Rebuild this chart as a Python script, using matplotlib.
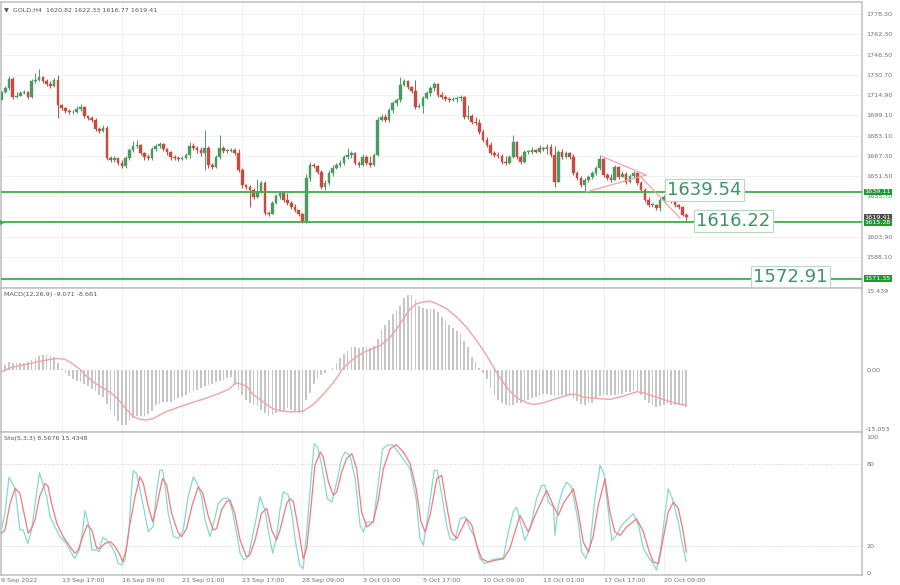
import matplotlib
matplotlib.use("Agg")
import matplotlib.pyplot as plt
import matplotlib.transforms as mtransforms

# GOLD H4, one value per bar (bar 0 = 9 Sep 2022 01:00)
first_open = 1711.0
closes = [1717.3, 1720.4, 1727.5, 1713.4, 1714.2, 1716.5, 1717.3, 1713.4, 1725.9, 1726.7,
          1729.0, 1725.9, 1723.5, 1722.0, 1726.7, 1707.1, 1704.8, 1702.4, 1701.6, 1701.6,
          1704.0, 1705.6, 1698.5, 1697.0, 1695.4, 1688.3, 1686.8, 1689.1, 1665.7, 1664.1,
          1665.7, 1661.8, 1659.4, 1665.7, 1671.9, 1675.1, 1675.8, 1669.6, 1666.5, 1665.7,
          1672.7, 1675.1, 1676.6, 1672.7, 1670.4, 1666.5, 1665.7, 1664.9, 1665.7, 1668.0,
          1675.1, 1673.5, 1671.9, 1669.6, 1673.5, 1660.2, 1658.6, 1666.5, 1673.5, 1671.1,
          1671.1, 1671.9, 1669.6, 1656.3, 1644.6, 1643.0, 1640.6, 1635.2, 1639.1, 1646.1,
          1622.6, 1621.9, 1630.5, 1635.9, 1638.3, 1632.8, 1630.5, 1627.3, 1625.0, 1621.9,
          1616.4, 1650.0, 1660.2, 1659.4, 1654.7, 1643.0, 1646.1, 1653.9, 1657.8, 1660.2,
          1661.8, 1666.5, 1668.0, 1669.6, 1661.8, 1660.2, 1666.5, 1661.8, 1660.2, 1668.0,
          1695.4, 1697.7, 1695.4, 1703.2, 1708.7, 1711.0, 1722.8, 1725.9, 1721.2, 1718.1,
          1705.6, 1706.3, 1712.6, 1716.5, 1720.4, 1723.5, 1714.9, 1713.4, 1711.8, 1711.0,
          1711.8, 1712.6, 1713.4, 1697.7, 1698.5, 1693.8, 1693.0, 1686.0, 1679.7, 1675.8,
          1669.6, 1668.0, 1667.2, 1662.5, 1661.8, 1666.5, 1678.2, 1666.5, 1662.5, 1670.4,
          1670.4, 1671.9, 1670.4, 1673.5, 1672.7, 1674.3, 1668.0, 1646.9, 1670.4, 1666.5,
          1669.6, 1666.5, 1653.9, 1650.0, 1644.6, 1648.5, 1650.8, 1653.9, 1657.8, 1664.9,
          1652.4, 1650.0, 1648.5, 1658.6, 1650.8, 1653.2, 1646.9, 1651.6, 1653.9, 1646.1,
          1640.6, 1632.8, 1628.9, 1628.9, 1626.6, 1632.8, 1635.2, 1636.7, 1632.0, 1628.9,
          1627.3, 1620.82, 1619.41]
highs = [1718.9, 1722.0, 1729.8, 1729.0, 1717.3, 1718.1, 1718.9, 1718.1, 1727.5, 1732.2,
         1735.3, 1729.8, 1727.5, 1725.9, 1728.2, 1730.6, 1707.9, 1705.6, 1704.0, 1703.2,
         1706.3, 1707.9, 1706.3, 1698.5, 1698.5, 1697.0, 1689.9, 1691.5, 1690.7, 1667.2,
         1667.2, 1665.7, 1664.1, 1667.2, 1673.5, 1679.0, 1679.7, 1676.6, 1670.4, 1668.8,
         1674.3, 1676.6, 1678.2, 1677.4, 1673.5, 1671.1, 1668.0, 1667.2, 1667.2, 1669.6,
         1678.2, 1677.4, 1675.1, 1674.3, 1687.6, 1675.1, 1661.8, 1668.0, 1683.7, 1675.1,
         1672.7, 1673.5, 1673.5, 1672.7, 1657.8, 1645.3, 1644.6, 1642.2, 1649.2, 1647.7,
         1647.7, 1624.2, 1632.0, 1637.5, 1639.9, 1639.9, 1638.3, 1632.0, 1629.7, 1624.2,
         1622.6, 1653.2, 1662.5, 1661.8, 1660.2, 1656.3, 1648.5, 1656.3, 1660.2, 1661.8,
         1664.1, 1668.0, 1673.5, 1671.1, 1670.4, 1663.3, 1668.8, 1668.0, 1667.2, 1669.6,
         1697.7, 1700.1, 1700.1, 1704.8, 1710.3, 1712.6, 1729.0, 1727.5, 1726.7, 1722.0,
         1726.7, 1708.7, 1714.2, 1718.1, 1722.0, 1725.1, 1724.3, 1717.3, 1714.9, 1713.4,
         1713.4, 1714.2, 1714.9, 1714.2, 1707.1, 1700.1, 1697.7, 1696.2, 1688.3, 1682.1,
         1678.2, 1671.1, 1670.4, 1668.8, 1667.2, 1668.0, 1683.7, 1679.0, 1668.0, 1671.9,
         1671.9, 1674.3, 1672.7, 1675.8, 1674.3, 1676.6, 1676.6, 1675.1, 1671.9, 1672.7,
         1671.1, 1670.4, 1668.8, 1655.5, 1651.6, 1650.0, 1652.4, 1655.5, 1659.4, 1668.0,
         1665.7, 1653.9, 1653.2, 1660.2, 1659.4, 1655.5, 1654.7, 1653.2, 1655.5, 1654.7,
         1647.7, 1642.2, 1635.2, 1630.5, 1629.7, 1634.4, 1636.7, 1640.6, 1637.5, 1633.6,
         1629.7, 1628.1, 1622.33]
lows = [1707.9, 1716.5, 1718.9, 1711.8, 1712.6, 1714.9, 1715.7, 1711.8, 1712.6, 1724.3,
        1725.9, 1724.3, 1722.0, 1720.4, 1721.2, 1697.0, 1703.2, 1700.9, 1700.1, 1700.1,
        1700.9, 1702.4, 1697.0, 1695.4, 1693.8, 1686.8, 1685.2, 1686.0, 1664.1, 1662.5,
        1662.5, 1660.2, 1657.8, 1657.8, 1664.1, 1670.4, 1673.5, 1668.0, 1664.1, 1664.1,
        1664.1, 1671.1, 1673.5, 1671.1, 1668.0, 1664.1, 1664.1, 1663.3, 1664.1, 1664.9,
        1665.7, 1671.9, 1669.6, 1667.2, 1656.3, 1657.8, 1657.1, 1657.8, 1664.9, 1669.6,
        1669.6, 1670.4, 1668.0, 1654.7, 1642.2, 1641.4, 1627.3, 1633.6, 1634.4, 1638.3,
        1621.1, 1620.3, 1621.9, 1629.7, 1633.6, 1631.3, 1628.9, 1625.8, 1623.4, 1620.3,
        1614.8, 1614.8, 1647.7, 1657.8, 1653.2, 1641.4, 1640.6, 1644.6, 1651.6, 1657.1,
        1658.6, 1660.2, 1664.9, 1665.7, 1660.2, 1658.6, 1659.4, 1660.2, 1658.6, 1659.4,
        1667.2, 1694.6, 1693.8, 1693.8, 1700.9, 1706.3, 1709.5, 1722.0, 1719.6, 1716.5,
        1704.0, 1704.8, 1700.9, 1711.8, 1714.2, 1718.1, 1713.4, 1711.8, 1710.3, 1709.5,
        1710.3, 1709.5, 1710.3, 1696.2, 1696.2, 1692.3, 1691.5, 1684.4, 1678.2, 1674.3,
        1668.0, 1666.5, 1665.7, 1661.0, 1660.2, 1661.0, 1665.7, 1664.9, 1661.0, 1661.8,
        1668.8, 1668.8, 1669.6, 1669.6, 1671.1, 1668.8, 1666.5, 1643.0, 1646.9, 1664.9,
        1665.7, 1664.9, 1652.4, 1648.5, 1643.0, 1639.1, 1646.9, 1649.2, 1652.4, 1656.3,
        1650.8, 1648.5, 1646.9, 1649.2, 1649.2, 1651.6, 1645.3, 1646.1, 1650.0, 1644.6,
        1639.1, 1631.3, 1627.3, 1627.3, 1625.0, 1624.2, 1631.3, 1632.0, 1630.5, 1627.3,
        1625.8, 1620.3, 1616.77]

macd_hist = [0.37, 0.99, 1.85, 1.60, 1.48, 1.48, 1.48, 1.79, 2.22, 2.71,
             3.20, 3.45, 3.45, 3.20, 3.08, 1.60, 0.25, -0.80, -1.60, -2.28,
             -2.83, -2.96, -3.45, -4.07, -4.68, -5.30, -6.10, -6.53, -8.25, -9.73,
             -11.33, -12.57, -13.43, -13.43, -12.20, -11.83, -11.33, -11.33, -11.33, -10.84,
             -9.98, -8.50, -8.25, -7.88, -7.88, -7.76, -7.27, -6.90, -6.53, -6.10,
             -5.67, -5.11, -4.88, -4.44, -4.07, -3.70, -3.45, -3.08, -2.83, -2.46,
             -2.03, -1.85, -3.70, -4.88, -6.10, -7.27, -8.13, -8.50, -8.75, -9.73,
             -10.60, -11.21, -11.09, -10.60, -9.98, -9.98, -9.36, -9.73, -9.98, -10.47,
             -10.84, -7.39, -5.61, -3.57, -1.97, -1.29, -0.74, -0.16, 0.49, 1.48,
             2.71, 3.70, 4.56, 5.42, 5.42, 5.17, 5.54, 5.54, 5.17, 5.79,
             7.39, 9.61, 10.84, 12.07, 13.55, 14.48, 15.52, 17.37, 17.99, 17.99,
             16.88, 15.52, 14.97, 14.72, 14.72, 14.72, 13.92, 12.81, 11.83, 10.84,
             10.10, 9.24, 8.62, 7.02, 5.42, 2.96, 1.72, 0.49, -0.74, -2.34,
             -4.44, -6.04, -7.27, -8.01, -8.62, -8.87, -8.62, -8.01, -8.01, -7.52,
             -7.27, -6.78, -6.65, -6.41, -5.85, -5.85, -6.16, -6.41, -6.41, -6.16,
             -6.04, -6.41, -6.78, -7.52, -8.25, -8.62, -8.01, -8.01, -6.78, -6.41,
             -6.16, -6.16, -6.16, -6.16, -5.85, -5.85, -5.54, -5.42, -5.17, -5.17,
             -6.04, -7.27, -8.01, -8.62, -9.12, -8.87, -8.50, -8.25, -8.50, -8.50,
             -8.62, -8.87, -9.071]

signal_bar = [0, 2.3, 4.9, 7.6, 10.2, 12.9, 15.1, 16.9, 18.6, 20.9,
              22.6, 24.4, 26.2, 28, 29.7, 31.5, 33.3, 35.0, 36.8, 38.6,
              40.4, 42.1, 43.9, 47.4, 51, 54.5, 58.1, 60.7, 62.1, 63.4,
              65.2, 66.9, 68.7, 70.5, 72.2, 74, 76.7, 80.2, 82.9, 85.5,
              88.2, 90.9, 93.5, 96.2, 98.8, 100.6, 103.3, 105, 106.8, 108.6,
              110.3, 112.1, 113.9, 115.7, 118.3, 121, 123.6, 126.3, 129, 131.6,
              134.3, 136.9, 139.6, 141.4, 144, 147.6, 151.1, 152.9, 154.6, 158.2,
              161.7, 165.3, 168.8, 170.6, 173.2, 175.9, 178.6, 182]
signal_val = [-0.57, 0.41, 0.97, 1.47, 2.03, 2.44, 2.69, 2.46, 1.63, 0.0,
              -1.60, -2.96, -4.07, -4.93, -6.10, -7.76, -9.73, -11.33, -12.07, -12.20,
              -11.83, -10.96, -10.16, -8.99, -7.88, -6.90, -5.67, -4.63, -3.20, -3.45,
              -4.07, -6.10, -7.27, -8.50, -9.49, -9.98, -10.25, -10.08, -8.45, -6.01,
              -3.17, 0.49, 2.53, 4.15, 5.13, 5.78, 7.81, 9.84, 12.28, 14.72,
              15.94, 16.35, 16.59, 15.94, 14.72, 12.69, 10.25, 7.00, 3.34, -0.73,
              -4.39, -6.83, -8.04, -8.45, -8.04, -6.99, -6.01, -6.01, -6.67, -6.99,
              -7.23, -6.42, -5.37, -5.61, -6.42, -7.23, -8.04, -8.661]

sto_k_bar = [0, 0.9, 2.0, 3.6, 4.9, 5.8, 7.0, 8.0, 9.2, 10.1,
             11.6, 12.0, 12.9, 14.2, 15.5, 16.9, 18.2, 19.1, 19.5, 20.7,
             21.6, 22.2, 23.3, 24.0, 25.3, 26.0, 26.9, 27.9, 29.0, 30.2,
             31.0, 31.9, 32.8, 33.9, 34.4, 35.0, 35.9, 36.8, 37.9, 39.0,
             40.3, 41.2, 42.1, 42.8, 43.4, 44.3, 45.7, 47.0, 48.3, 49.6,
             51.0, 52.0, 53.2, 54.1, 55.4, 56.6, 57.6, 58.9, 60.3, 61.3,
             62.5, 63.4, 64.5, 65.6, 66.5, 67.6, 68.7, 70.0, 71.2, 72.1,
             73.1, 74.0, 74.9, 76.2, 77.3, 78.2, 79.3, 80.2, 81.1, 82.2,
             83.1, 84.0, 85.1, 86.6, 87.8, 89.1, 90.4, 91.3, 92.6, 94.0,
             95.3, 96.2, 97.1, 98.8, 100.2, 101.3, 102.8, 104.1, 106.4, 108.6,
             110.2, 111.2, 112.1, 113.7, 115.0, 115.8, 117.2, 118.3, 119.2, 120.5,
             121.9, 123.2, 124.5, 125.7, 127.2, 128.5, 130.7, 133.4, 134.7, 136.0,
             136.9, 139.1, 140.5, 142.2, 143.6, 144.4, 145.3, 146.7, 147.1, 148.0,
             149.1, 150.2, 151.5, 153.3, 154.2, 155.3, 156.4, 157.7, 159.1, 160.1,
             162.2, 163.5, 164.8, 167.9, 169.3, 170.6, 171.9, 173.2, 174.1, 175.2,
             176.3, 177.2, 178.3, 179.9, 181.0, 182.0]
sto_k = [31.6, 43.9, 70.3, 62.3, 31.6, 31.6, 21.8, 31.6, 56.1, 73.8,
         59.8, 56.1, 41.4, 34.1, 26.7, 23.0, 16.9, 12.0, 10.8, 16.9,
         31.6, 45.8, 34.1, 16.9, 16.9, 15.7, 26.2, 24.3, 20.6, 14.5,
         7.1, 5.9, 9.6, 31.6, 56.1, 75.3, 73.3, 61.0, 46.3, 30.4,
         34.1, 59.8, 75.7, 75.7, 65.9, 43.9, 26.7, 25.5, 31.6, 56.1,
         70.8, 65.9, 56.1, 39.0, 26.7, 39.0, 51.2, 54.9, 54.9, 46.3,
         29.2, 14.5, 9.6, 12.0, 24.3, 39.0, 56.1, 46.3, 26.7, 14.5,
         26.7, 46.3, 59.8, 57.4, 41.4, 21.8, 5.6, 3.2, 30.2, 66.9,
         95.1, 92.7, 79.2, 54.7, 52.2, 66.9, 84.1, 89.0, 86.5, 69.4,
         35.1, 30.2, 37.5, 37.5, 66.9, 91.4, 94.4, 93.9, 85.3, 76.7,
         54.7, 25.3, 20.4, 49.8, 75.5, 75.5, 54.7, 35.1, 25.3, 24.0,
         39.9, 41.2, 32.6, 26.5, 10.5, 6.9, 10.1, 11.0, 30.2, 44.9,
         48.5, 24.0, 32.6, 54.7, 64.5, 64.5, 52.2, 48.5, 27.7, 49.8,
         60.8, 66.9, 63.2, 37.5, 15.4, 10.5, 20.3, 54.7, 79.2, 73.0,
         24.0, 27.7, 35.1, 43.6, 35.1, 17.9, 11.8, 6.9, 2.0, 17.9,
         42.4, 62.0, 54.7, 37.5, 20.4, 8.5676]
sto_d_bar = [0, 0.9, 2.3, 3.6, 4.9, 6.0, 7.1, 8.2, 8.9, 10.1,
             11.6, 12.4, 13.3, 14.7, 16.4, 18.2, 19.5, 20.4, 21.6, 22.8,
             24.0, 25.3, 26.2, 27.5, 29.0, 30.2, 31.5, 32.2, 33.1, 34.0,
             35.5, 36.8, 37.7, 39.0, 40.2, 41.2, 42.8, 43.9, 45.2, 47.0,
             47.9, 49.2, 50.8, 52.3, 53.5, 55.0, 56.3, 57.2, 58.5, 59.8,
             60.7, 62.0, 63.4, 65.1, 66.0, 67.4, 69.1, 70.5, 71.8, 73.1,
             74.0, 75.8, 76.7, 77.6, 78.9, 80.2, 81.1, 82.2, 83.3, 84.7,
             85.5, 86.9, 88.2, 89.1, 90.4, 91.7, 93.1, 94.4, 95.7, 97.1,
             98.8, 100.2, 101.5, 103.3, 104.9, 106.8, 108.6, 110.2, 111.5, 112.6,
             113.9, 115.7, 117.0, 118.3, 119.6, 121.0, 121.9, 123.6, 125.0, 126.3,
             127.6, 129.4, 131.2, 133.4, 135.1, 137.8, 140.0, 142.2, 144.9, 146.6,
             148.0, 149.3, 152.0, 153.3, 154.6, 156.0, 157.3, 158.6, 160.4, 161.7,
             163.0, 164.4, 166.1, 168.8, 170.6, 171.9, 173.2, 174.6, 175.7, 177.2,
             178.6, 179.9, 181.2, 182.0]
sto_d = [29.2, 31.6, 51.2, 62.3, 58.6, 43.9, 29.2, 34.1, 39.0, 56.1,
         65.9, 63.5, 51.2, 36.5, 26.7, 19.4, 14.5, 16.9, 26.7, 35.3,
         31.6, 18.2, 18.2, 21.8, 23.0, 19.4, 13.2, 8.3, 16.9, 34.1,
         56.1, 70.8, 65.9, 48.8, 37.7, 48.8, 69.6, 64.7, 43.9, 29.2,
         26.7, 32.8, 51.2, 63.5, 58.6, 41.4, 31.6, 32.8, 46.3, 52.5,
         53.7, 43.9, 24.3, 12.0, 13.2, 24.3, 43.9, 47.6, 31.6, 24.3,
         31.6, 51.2, 54.7, 52.2, 32.6, 10.5, 17.9, 47.3, 79.2, 89.0,
         85.3, 66.9, 57.1, 59.6, 74.3, 84.1, 87.8, 76.7, 44.9, 33.8,
         37.5, 54.7, 76.7, 91.4, 94.4, 89.0, 80.4, 62.0, 37.5, 30.2,
         42.4, 69.4, 71.8, 49.8, 30.2, 25.3, 30.2, 39.9, 35.1, 20.4,
         10.5, 8.1, 9.3, 10.5, 17.9, 42.4, 30.2, 44.9, 60.8, 49.8,
         42.4, 51.0, 62.0, 44.9, 22.8, 15.4, 27.7, 49.8, 69.4, 44.9,
         30.2, 27.7, 33.8, 39.9, 30.2, 17.9, 8.1, 6.9, 22.8, 44.9,
         52.2, 47.3, 30.2, 15.4348]

price_ticks = [1778.30, 1762.30, 1746.50, 1730.70, 1714.90, 1699.10, 1683.10,
               1667.30, 1651.50, 1635.70, 1619.90, 1603.90, 1588.10, 1572.30]
date_ticks = [0, 16, 32, 48, 64, 80, 96, 112, 128, 144, 160, 176]
date_labels = ["9 Sep 2022", "13 Sep 17:00", "16 Sep 09:00", "21 Sep 01:00",
               "23 Sep 17:00", "28 Sep 09:00", "3 Oct 01:00", "5 Oct 17:00",
               "10 Oct 09:00", "13 Oct 01:00", "17 Oct 17:00", "20 Oct 09:00"]

levels = [1639.11, 1615.28, 1571.35]
level_names = ["1639.54", "1616.22", "1572.91"]
last_price = 1619.41

tri_upper_bar = [159.3, 171.3]
tri_upper_val = [1667.2, 1652.4]
tri_lower_bar = [155.4, 171.3]
tri_lower_val = [1639.1, 1652.4]
wedge_bar = [169.7, 180.3]
wedge_val = [1651.6, 1618.8]

up_col = "#4c9a63"
dn_col = "#c54b43"
lvl_col = "#3fae49"
pink = "#f4a3a3"
axis_col = "#c4c4c4"
txt_col = "#6f6f6f"

fig = plt.figure(figsize=(9, 5.85), dpi=100)
L, W = 1 / 900, 861 / 900
ax1 = fig.add_axes([L, 1 - 288 / 585, W, 286 / 585])
ax2 = fig.add_axes([L, 1 - 432 / 585, W, 144 / 585], sharex=ax1)
ax3 = fig.add_axes([L, 1 - 575 / 585, W, 143 / 585], sharex=ax1)

for ax in (ax1, ax2, ax3):
    for s in ax.spines.values():
        s.set_color(axis_col)
        s.set_linewidth(1.2)
    ax.yaxis.tick_right()
    ax.tick_params(axis="both", length=0, labelsize=4.6, labelcolor=txt_col, pad=3)
    ax.set_xticks(date_ticks)
    ax.grid(axis="x", color="#efefef", lw=0.6)
    ax.set_axisbelow(True)
ax1.set_xlim(-0.13, 228.7)

# candles
x = list(range(len(closes)))
opens = [first_open] + closes[:-1]
cols = [up_col if c >= o else dn_col for o, c in zip(opens, closes)]
lo = [min(l, o, c) for l, o, c in zip(lows, opens, closes)]
hi = [max(h, o, c) for h, o, c in zip(highs, opens, closes)]
ax1.vlines(x, lo, hi, colors=cols, lw=0.7, zorder=2)
bottoms = [min(o, c) for o, c in zip(opens, closes)]
heights = [max(abs(c - o), 0.45) for o, c in zip(opens, closes)]
ax1.bar(x, heights, bottom=bottoms, width=0.7, color=cols, edgecolor=cols, lw=0.3, zorder=3)

ax1.set_ylim(1564.0, 1787.7)
ax1.set_yticks(price_ticks)
ax1.set_yticklabels(["%.2f" % p for p in price_ticks])
ax1.grid(axis="y", color="#efefef", lw=0.6)
ax1.tick_params(axis="x", labelbottom=False)

for lv in levels:
    ax1.axhline(lv, color=lvl_col, lw=1.3, zorder=4)
ax1.plot([-0.13], [levels[1]], marker=">", ms=3, color=lvl_col, clip_on=False, zorder=5)

ax1.plot(tri_upper_bar, tri_upper_val, color=pink, lw=0.9, zorder=4)
ax1.plot(tri_lower_bar, tri_lower_val, color=pink, lw=0.9, zorder=4)
ax1.plot(wedge_bar, wedge_val, color=pink, lw=0.9, zorder=4)

lab_pos = [(177.0, 1640.6), (184.7, 1616.4), (199.7, 1572.4)]
for (bx, by), name in zip(lab_pos, level_names):
    ax1.text(bx, by, name, fontsize=13, color="#3d9466", ha="left", va="center", zorder=6,
             bbox=dict(boxstyle="square,pad=0.12", fc="white", ec="#b3dcbb", lw=0.8))

# price tags on the right axis
tr = mtransforms.blended_transform_factory(ax1.transAxes, ax1.transData)
ax1.text(1.003, last_price, "%.2f" % last_price, transform=tr, fontsize=4.6, color="white",
         ha="left", va="center", clip_on=False, zorder=7,
         bbox=dict(boxstyle="square,pad=0.15", fc="#505050", ec="none"))
for lv in levels:
    ax1.text(1.003, lv, "%.2f" % lv, transform=tr, fontsize=4.6, color="white", ha="left",
             va="center", clip_on=False, zorder=8,
             bbox=dict(boxstyle="square,pad=0.15", fc="#1f9a30", ec="none"))

ax1.text(0.004, 0.983, "\u25BC  GOLD,H4  1620.82 1622.33 1616.77 1619.41", transform=ax1.transAxes,
         fontsize=4.6, color="#555555", va="top", ha="left")

# MACD
ax2.bar(x, macd_hist, width=0.45, color="#c6c6c6", zorder=2)
ax2.plot(signal_bar, signal_val, color=pink, lw=1.0, zorder=3)
ax2.set_ylim(-15.12, 19.76)
ax2.set_yticks([19.0, 0.0, -14.4])
ax2.set_yticklabels(["15.439", "0.00", "-15.053"])
ax2.tick_params(axis="x", labelbottom=False)
ax2.text(0.004, 0.975, "MACD(12,26,9) -9.071 -8.661", transform=ax2.transAxes,
         fontsize=4.6, color="#555555", va="top", ha="left")

# Stochastic
ax3.axhline(80, color="#d0d0d0", lw=0.7, ls=":")
ax3.axhline(20, color="#d0d0d0", lw=0.7, ls=":")
ax3.plot(sto_k_bar, sto_k, color="#86d9d0", lw=0.9, zorder=3)
ax3.plot(sto_d_bar, sto_d, color="#f47a7a", lw=0.9, zorder=4)
ax3.set_ylim(-1.47, 103.7)
ax3.set_yticks([100, 80, 20, 0])
ax3.set_yticklabels(["100", "80", "20", "0"])
ax3.set_xticklabels(date_labels, ha="left")
ax3.tick_params(axis="x", pad=2)
ax3.text(0.004, 0.975, "Sto(5,3,3) 8.5676 15.4348", transform=ax3.transAxes,
         fontsize=4.6, color="#555555", va="top", ha="left")

fig.savefig("out.png", dpi=100)
